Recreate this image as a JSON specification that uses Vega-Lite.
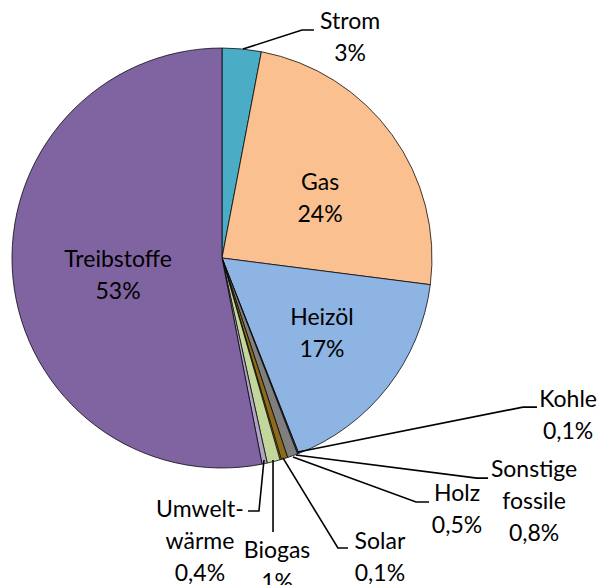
{
  "$schema": "https://vega.github.io/schema/vega-lite/v6.json",
  "width": 600,
  "height": 585,
  "padding": 0,
  "autosize": {"type": "none"},
  "background": "white",
  "config": {"view": {"stroke": null}},
  "datasets": {
    "pie": [
      {"name": "Strom", "value": 3, "o": 1},
      {"name": "Gas", "value": 24, "o": 2},
      {"name": "Heizöl", "value": 17, "o": 3},
      {"name": "Kohle", "value": 0.1, "o": 4},
      {"name": "Sonstige fossile", "value": 0.8, "o": 5},
      {"name": "Holz", "value": 0.5, "o": 6},
      {"name": "Solar", "value": 0.1, "o": 7},
      {"name": "Biogas", "value": 1, "o": 8},
      {"name": "Umweltwärme", "value": 0.4, "o": 9},
      {"name": "Treibstoffe", "value": 53, "o": 10}
    ],
    "lines": [
      {"g": "Strom", "o": 1, "x": 10, "y": 99.5},
      {"g": "Strom", "o": 2, "x": 38.1, "y": 108.6},
      {"g": "Strom", "o": 3, "x": 43.8, "y": 108.6},
      {"g": "Kohle", "o": 1, "x": 36.2, "y": -92.4},
      {"g": "Kohle", "o": 2, "x": 143.3, "y": -71.0},
      {"g": "Kohle", "o": 3, "x": 150, "y": -71.0},
      {"g": "Sonstige", "o": 1, "x": 35.2, "y": -93.8},
      {"g": "Sonstige", "o": 2, "x": 121.4, "y": -104.8},
      {"g": "Sonstige", "o": 3, "x": 126.7, "y": -104.8},
      {"g": "Holz", "o": 1, "x": 33.8, "y": -94.8},
      {"g": "Holz", "o": 2, "x": 92.4, "y": -116.2},
      {"g": "Holz", "o": 3, "x": 98.6, "y": -116.2},
      {"g": "Solar", "o": 1, "x": 29.0, "y": -95.2},
      {"g": "Solar", "o": 2, "x": 55.2, "y": -138.1},
      {"g": "Solar", "o": 3, "x": 60.0, "y": -138.1},
      {"g": "Biogas", "o": 1, "x": 24.3, "y": -96.2},
      {"g": "Biogas", "o": 2, "x": 24.3, "y": -130.5},
      {"g": "Umwelt", "o": 1, "x": 20.0, "y": -96.2},
      {"g": "Umwelt", "o": 2, "x": 17.6, "y": -120.5},
      {"g": "Umwelt", "o": 3, "x": 12.4, "y": -120.5}
    ],
    "labels": [
      {"t": "Strom\n3%", "x": 61.0, "y": 112.4},
      {"t": "Gas\n24%", "x": 46.7, "y": 35.7},
      {"t": "Heizöl\n17%", "x": 47.6, "y": -28.6},
      {"t": "Treibstoffe\n53%", "x": -49.5, "y": -0.95},
      {"t": "Kohle\n0,1%", "x": 164.8, "y": -67.6},
      {"t": "Sonstige\nfossile\n0,8%", "x": 148.6, "y": -100.95},
      {"t": "Holz\n0,5%", "x": 111.9, "y": -112.4},
      {"t": "Solar\n0,1%", "x": 75.2, "y": -135.2},
      {"t": "Biogas\n1%", "x": 26.2, "y": -139.5},
      {"t": "Umwelt-\nwärme\n0,4%", "x": -10.5, "y": -120.0}
    ]
  },
  "layer": [
    {
      "data": {"name": "pie"},
      "mark": {"type": "arc", "outerRadius": 210, "stroke": "#000000", "strokeWidth": 0.75},
      "encoding": {
        "x": {"datum": 0, "type": "quantitative", "scale": {"domain": [-105.714, 180], "nice": false, "zero": false}, "axis": null},
        "y": {"datum": 0, "type": "quantitative", "scale": {"domain": [-155.714, 122.857], "nice": false, "zero": false}, "axis": null},
        "theta": {"field": "value", "type": "quantitative", "stack": true},
        "order": {"field": "o", "type": "quantitative"},
        "color": {
          "field": "name", "type": "nominal", "legend": null,
          "scale": {
            "domain": ["Strom", "Gas", "Heizöl", "Kohle", "Sonstige fossile", "Holz", "Solar", "Biogas", "Umweltwärme", "Treibstoffe"],
            "range": ["#4BACC6", "#FAC090", "#8EB4E3", "#4D4D4D", "#7F7F7F", "#8C6A1E", "#C9A800", "#C3D69B", "#B3A2C7", "#8064A2"]
          }
        }
      }
    },
    {
      "data": {"name": "lines"},
      "mark": {"type": "line", "color": "#000000", "strokeWidth": 1.6},
      "encoding": {
        "x": {"field": "x", "type": "quantitative", "scale": {"domain": [-105.714, 180], "nice": false, "zero": false}, "axis": null},
        "y": {"field": "y", "type": "quantitative", "scale": {"domain": [-155.714, 122.857], "nice": false, "zero": false}, "axis": null},
        "detail": {"field": "g", "type": "nominal"},
        "order": {"field": "o", "type": "quantitative"}
      }
    },
    {
      "data": {"name": "labels"},
      "mark": {"type": "text", "lineBreak": "\n", "font": "Lato", "fontSize": 23, "lineHeight": 32, "align": "center", "baseline": "middle", "color": "#000000"},
      "encoding": {
        "x": {"field": "x", "type": "quantitative", "scale": {"domain": [-105.714, 180], "nice": false, "zero": false}, "axis": null},
        "y": {"field": "y", "type": "quantitative", "scale": {"domain": [-155.714, 122.857], "nice": false, "zero": false}, "axis": null},
        "text": {"field": "t", "type": "nominal"}
      }
    }
  ]
}
